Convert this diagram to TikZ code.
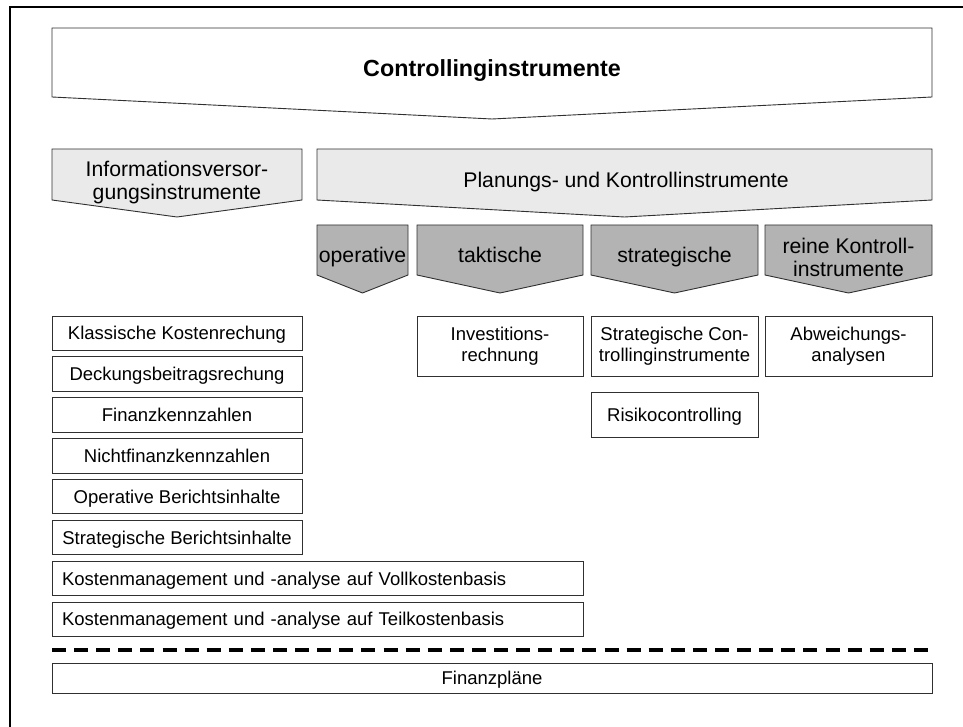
\documentclass[tikz,border=0pt]{standalone}
\usepackage{fontspec}
\setmainfont{Liberation Sans}
\definecolor{lightfill}{HTML}{EAEAEA}
\definecolor{darkfill}{HTML}{B3B3B3}
\definecolor{strokegray}{HTML}{303030}
\newcommand\bannerfont{\fontsize{23.3}{26}\selectfont\bfseries}
\newcommand\groupfont{\fontsize{21.2}{23}\selectfont}
\newcommand\cellfont{\fontsize{18.5}{20.8}\selectfont}
% down-pointing pentagon: style, left x, right x, top y, side y, tip y
\newcommand\downshape[6]{\path[#1] (#2,#4) -- (#3,#4) -- (#3,#5) -- ({(#2+#3)/2},#6) -- (#2,#5) -- cycle;}
\begin{document}
\begin{tikzpicture}[x=1pt,y=-1pt,
  edge/.style={draw=strokegray, line width=0.9pt, line join=miter},
  topshape/.style={edge, fill=white},
  groupshape/.style={edge, fill=lightfill},
  kindshape/.style={edge, fill=darkfill},
  label/.style={inner sep=0pt, align=center, font=\groupfont},
  cell/.style={draw=strokegray, line width=0.9pt, fill=white, inner sep=0pt,
    align=center, font=\cellfont},
  oneline/.style={text height=13.3pt, text depth=0pt},
  widecell/.style={cell, oneline, text width=511pt, inner xsep=10pt, align=left,
    minimum height=34.5pt},
  listcell/.style={cell, oneline, minimum width=250pt, minimum height=34.5pt},
]
\useasboundingbox (0,0) rectangle (963,727);

% outer frame
\draw[line width=2.7pt] (10,727) -- (10,7) -- (963,7);

% main heading
\downshape{topshape}{52}{932}{28}{97}{119}
\node[inner sep=0pt, anchor=base, font=\bannerfont] (title) at (492,77) {Controllinginstrumente};

% two groups
\downshape{groupshape}{52}{302}{149}{200}{217}
\node[label] (info) at (177,183) {Informationsversor-\\gungsinstrumente};
\downshape{groupshape}{317}{932}{149}{200}{217}
\node[label, anchor=base] (plan) at (626,188) {Planungs- und Kontrollinstrumente};

% kinds of planning and control instruments
\downshape{kindshape}{317}{408}{225}{275}{293}
\node[label, anchor=base] (op) at (362.5,262) {operative};
\downshape{kindshape}{417}{583}{225}{275}{293}
\node[label, anchor=base] (tak) at (500,262) {taktische};
\downshape{kindshape}{591}{758}{225}{275}{293}
\node[label, anchor=base] (str) at (674.5,262) {strategische};
\downshape{kindshape}{765}{932}{225}{275}{293}
\node[label] (rein) at (848.5,257) {reine Kontroll-\\instrumente};

% information supply instruments
\node[listcell] (k1) at (177,333.25) {Klassische Kostenrechung};
\node[listcell] (k2) at (177,374.1) {Deckungsbeitragsrechung};
\node[listcell] (k3) at (177,414.95) {Finanzkennzahlen};
\node[listcell] (k4) at (177,455.8) {Nichtfinanzkennzahlen};
\node[listcell] (k5) at (177,496.65) {Operative Berichtsinhalte};
\node[listcell] (k6) at (177,537.5) {Strategische Berichtsinhalte};
\node[widecell] (k7) at (317.5,578.35) {Kostenmanagement und -analyse auf Vollkostenbasis};
\node[widecell] (k8) at (317.5,619.2) {Kostenmanagement und -analyse auf Teilkostenbasis};

% planning and control instruments
\node[cell, minimum width=166pt, minimum height=60pt] (inv) at (500,346) {Investitions-\\rechnung};
\node[cell, minimum width=167pt, minimum height=60pt] (sci) at (674.5,346) {Strategische Con-\\trollinginstrumente};
\node[cell, minimum width=167pt, minimum height=60pt] (abw) at (848.5,346) {Abweichungs-\\analysen};
\node[cell, oneline, minimum width=167pt, minimum height=45pt] (risk) at (674.5,414.5) {Risikocontrolling};

% separator and financial plans
\coordinate (sepL) at (52,650);
\coordinate (sepR) at (928,650);
\draw[line width=4pt, dash pattern=on 14pt off 8.1pt] (sepL) -- (sepR);
\node[cell, oneline, minimum width=880pt, minimum height=30pt] (fin) at (492,678) {Finanzpläne};
\end{tikzpicture}
\end{document}
